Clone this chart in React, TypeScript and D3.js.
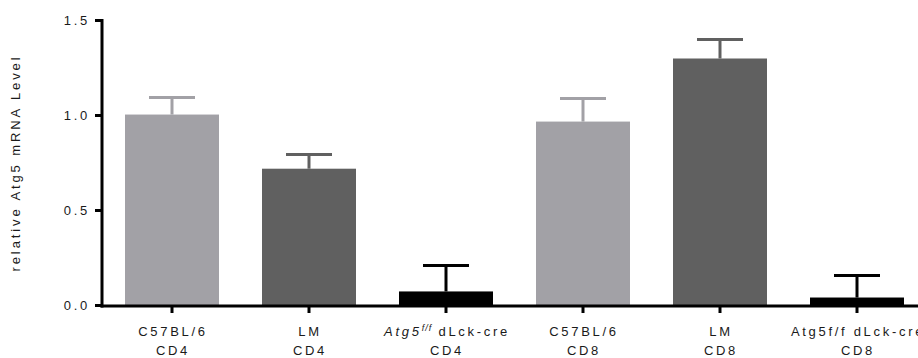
import React from "react";
import * as d3 from "d3";

const categories = ["c57cd4", "lmcd4", "atgcd4", "c57cd8", "lmcd8", "atgcd8"];
const means = [1.005, 0.72, 0.074, 0.968, 1.3, 0.042];
const errorTops = [1.095, 0.795, 0.21, 1.09, 1.4, 0.158];
const barColors = ["#a2a1a6", "#606060", "#000000", "#a2a1a6", "#606060", "#000000"];
const line2Labels = ["CD4", "CD4", "CD4", "CD8", "CD8", "CD8"];
const yTicks = [0, 0.5, 1.0, 1.5];

const W = 918;
const H = 358;
const axisX = 102;
const axisY = 306;
const font = "Liberation Sans, Arial, Helvetica, sans-serif";

export default function App() {
  const y = d3.scaleLinear().domain([0, 1.5]).range([305.5, 20.5]);
  const x = d3.scalePoint<string>().domain(categories).range([172, 857]);
  const barW = 94;
  const capW = 46;
  const fs = 13;
  const ls = 2.7;

  const line1 = (i: number) => {
    if (i === 0 || i === 3) return <tspan>C57BL/6</tspan>;
    if (i === 1 || i === 4) return <tspan>LM</tspan>;
    if (i === 2)
      return (
        <>
          <tspan fontStyle="italic">Atg5</tspan>
          <tspan fontStyle="italic" fontSize={9} dy={-5} letterSpacing={1}>f/f</tspan>
          <tspan dy={5}> dLck-cre</tspan>
        </>
      );
    return <tspan>Atg5f/f dLck-cre</tspan>;
  };

  return (
    <svg width={W} height={H} style={{ position: "absolute", left: 0, top: 0, background: "#fff" }}>
      {categories.map((c, i) => {
        const cx = x(c)!;
        return (
          <g key={c}>
            <rect x={cx - barW / 2} y={y(means[i])} width={barW} height={y(0) - y(means[i])} fill={barColors[i]} />
            <line x1={cx} x2={cx} y1={y(means[i])} y2={y(errorTops[i])} stroke={barColors[i]} strokeWidth={3} />
            <line x1={cx - capW / 2} x2={cx + capW / 2} y1={y(errorTops[i])} y2={y(errorTops[i])} stroke={barColors[i]} strokeWidth={3} />
          </g>
        );
      })}
      <line x1={axisX} x2={axisX} y1={y(1.5) - 1.5} y2={axisY + 1.5} stroke="#000" strokeWidth={3} />
      <line x1={axisX - 1.5} x2={W} y1={axisY} y2={axisY} stroke="#000" strokeWidth={3} />
      {yTicks.map((t) => (
        <g key={t}>
          <line x1={axisX - 7} x2={axisX} y1={y(t)} y2={y(t)} stroke="#000" strokeWidth={3} />
          <text x={axisX - 12} y={y(t)} dy="0.35em" textAnchor="end" fontFamily={font} fontSize={fs} letterSpacing={ls} fill="#1a1a1a">
            {d3.format(".1f")(t)}
          </text>
        </g>
      ))}
      {categories.map((c, i) => {
        const cx = x(c)!;
        return (
          <g key={c + "t"}>
            <line x1={cx} x2={cx} y1={axisY} y2={axisY + 7} stroke="#000" strokeWidth={3} />
            <text x={cx + 1} y={336} textAnchor="middle" fontFamily={font} fontSize={fs} letterSpacing={ls} fill="#1a1a1a">
              {line1(i)}
            </text>
            <text x={cx + 1} y={355} textAnchor="middle" fontFamily={font} fontSize={fs} letterSpacing={ls} fill="#1a1a1a">
              {line2Labels[i]}
            </text>
          </g>
        );
      })}
      <text transform={`translate(20,163) rotate(-90)`} textAnchor="middle" fontFamily={font} fontSize={13} letterSpacing={2.9} fill="#1a1a1a">
        relative Atg5 mRNA Level
      </text>
    </svg>
  );
}
